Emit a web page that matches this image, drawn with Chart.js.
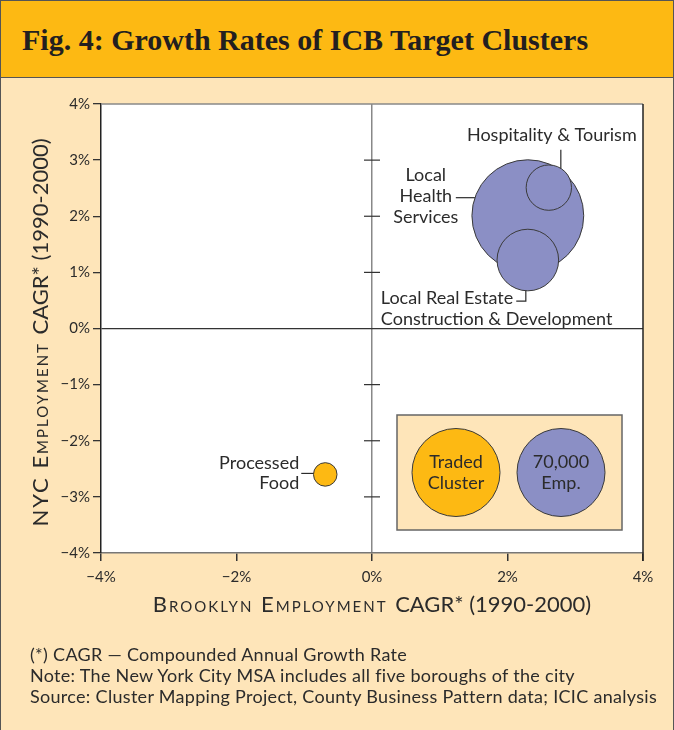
<!DOCTYPE html>
<html>
<head>
<meta charset="utf-8">
<script src="https://cdn.jsdelivr.net/npm/chart.js@4.4.0/dist/chart.umd.min.js"></script>
<style>
  body { margin: 0; background: #fff; }
  #frame { position: relative; width: 674px; height: 730px; background: #fee5b9; overflow: hidden; }
  #frame canvas { position: absolute; left: 0; top: 0; }
  #header { position: absolute; left: 0; top: 0; width: 674px; height: 77px; background: #fdb913; border-bottom: 1.5px solid #555; }
  #header h1 { position: absolute; left: 22px; top: 25px; margin: 0; font: bold 30px/1 "Liberation Serif", serif; color: #231f20; white-space: nowrap; }
  #edge { position: absolute; left: 0; top: 0; right: 0; bottom: 0; border: 1.5px solid #555; border-bottom: none; pointer-events: none; }
  #notes { position: absolute; left: 30px; top: 644px; font: 18px/21px Lato, sans-serif; letter-spacing: 0.3px; color: #2b2b2b; white-space: nowrap; }
</style>
</head>
<body>
<div id="frame">
  <canvas id="chart" width="674" height="730"></canvas>
  <div id="header"><h1>Fig. 4: Growth Rates of ICB Target Clusters</h1></div>
  <div id="notes">
    (*) CAGR — Compounded Annual Growth Rate<br>
    Note: The New York City MSA includes all five boroughs of the city<br>
    Source: Cluster Mapping Project, County Business Pattern data; ICIC analysis
  </div>
  <div id="edge"></div>
</div>
<script>
// Данные кластеров
const clusterNames = ['Local Health Services', 'Hospitality & Tourism', 'Local Real Estate Construction & Development', 'Processed Food'];
const clusterKind = ['local', 'local', 'local', 'traded'];
const brooklynCagr = [2.30, 2.61, 2.30, -0.69];
const nycCagr = [2.01, 2.51, 1.22, -2.60];
const employment = [113000, 18600, 34300, 5000];

// Деления осей
const xTickValues = [-4, -2, 0, 2, 4];
const yTickValues = [-4, -3, -2, -1, 0, 1, 2, 3, 4];
const legendEmployment = 70000;

const purple = '#8b8fc5';
const orange = '#fdb913';
const ink = '#2b2b2b';
const labelFont = '18px Lato, sans-serif';

// радиус пузыря пропорционален корню из занятости
const radiusFor = emp => 44 * Math.sqrt(emp / legendEmployment);

function pointsOf(kind) {
    return clusterNames
        .map((name, i) => ({ x: brooklynCagr[i], y: nycCagr[i], r: radiusFor(employment[i]), idx: i }))
        .filter(p => clusterKind[p.idx] === kind);
}

const pct = v => (v < 0 ? '\u2212' + (-v) : v) + '%';

// Подписи у пузырей
function drawLabels(ctx, chart) {
    const pos = {};
    chart.data.datasets.forEach((ds, d) => {
        chart.getDatasetMeta(d).data.forEach((el, j) => {
            pos[ds.data[j].idx] = { x: el.x, y: el.y, r: ds.data[j].r };
        });
    });
    ctx.save();
    ctx.font = labelFont;
    ctx.fillStyle = ink;
    ctx.strokeStyle = ink;
    ctx.lineWidth = 1.2;
    ctx.textBaseline = 'middle';

    // Local Health Services
    let p = pos[0];
    ctx.textAlign = 'center';
    ['Local', 'Health', 'Services'].forEach((t, k) => ctx.fillText(t, p.x - 102, p.y - 41 + k * 21));
    ctx.beginPath();
    ctx.moveTo(p.x - 72, p.y - 18);
    ctx.lineTo(p.x - Math.sqrt(p.r * p.r - 18 * 18), p.y - 18);
    ctx.stroke();

    // Hospitality & Tourism
    p = pos[1];
    ctx.fillText('Hospitality & Tourism', p.x + 3, p.y - 52);
    ctx.beginPath();
    ctx.moveTo(p.x + 12, p.y - 38);
    ctx.lineTo(p.x + 12, p.y - Math.sqrt(p.r * p.r - 144));
    ctx.stroke();

    // Local Real Estate
    p = pos[2];
    ctx.textAlign = 'left';
    ctx.fillText('Local Real Estate', p.x - 147, p.y + 38);
    ctx.fillText('Construction & Development', p.x - 147, p.y + 59);
    const w = ctx.measureText('Local Real Estate').width;
    ctx.beginPath();
    ctx.moveTo(p.x - 147 + w + 3, p.y + 41);
    ctx.lineTo(p.x - 2, p.y + 41);
    ctx.lineTo(p.x - 2, p.y + p.r);
    ctx.stroke();

    // Processed Food
    p = pos[3];
    ctx.textAlign = 'right';
    ctx.fillText('Processed', p.x - 26, p.y - 11);
    ctx.fillText('Food', p.x - 26, p.y + 9);
    ctx.beginPath();
    ctx.moveTo(p.x - 24, p.y - 1);
    ctx.lineTo(p.x - p.r, p.y - 1);
    ctx.stroke();
    ctx.restore();
}

// Легенда в правом нижнем углу
function drawLegend(ctx, area) {
    const right = area.right - 21, bottom = area.bottom - 23;
    const left = right - 225, top = bottom - 115;
    const r = radiusFor(legendEmployment);
    const cy = (top + bottom) / 2;
    ctx.save();
    ctx.fillStyle = '#fee5b9';
    ctx.strokeStyle = '#666';
    ctx.lineWidth = 1.5;
    ctx.fillRect(left, top, right - left, bottom - top);
    ctx.strokeRect(left, top, right - left, bottom - top);
    [[left + 59, orange, ['Traded', 'Cluster']], [left + 164, purple, ['70,000', 'Emp.']]].forEach(([cx, col, lines]) => {
        ctx.beginPath();
        ctx.arc(cx, cy, r, 0, Math.PI * 2);
        ctx.fillStyle = col;
        ctx.fill();
        ctx.strokeStyle = '#3a3a3a';
        ctx.lineWidth = 1;
        ctx.stroke();
        ctx.fillStyle = ink;
        ctx.font = labelFont;
        ctx.textAlign = 'center';
        ctx.textBaseline = 'middle';
        ctx.fillText(lines[0], cx, cy - 10);
        ctx.fillText(lines[1], cx, cy + 11);
    });
    ctx.restore();
}

// Подписи осей (капитель)
function drawAxisTitles(ctx, area) {
    ctx.save();
    ctx.fillStyle = ink;
    ctx.textBaseline = 'alphabetic';
    const scFont = 'small-caps 22px Lato, sans-serif';
    const plainFont = '22px Lato, sans-serif';
    const parts = (a, b, x, y) => {
        ctx.font = scFont;
        ctx.letterSpacing = '2px';
        const w1 = ctx.measureText(a).width;
        ctx.font = plainFont;
        ctx.letterSpacing = '0px';
        const w2 = ctx.measureText(b).width;
        const start = x - (w1 + w2) / 2;
        ctx.textAlign = 'left';
        ctx.font = scFont;
        ctx.letterSpacing = '2px';
        ctx.fillText(a, start, y);
        ctx.font = plainFont;
        ctx.letterSpacing = '0px';
        ctx.fillText(b, start + w1, y);
    };
    parts('Brooklyn Employment ', 'CAGR* (1990-2000)', (area.left + area.right) / 2, 612);
    ctx.translate(48, (area.top + area.bottom) / 2 + 4);
    ctx.rotate(-Math.PI / 2);
    parts('NYC Employment ', 'CAGR* (1990-2000)', 0, 0);
    ctx.restore();
}

const framePlugin = {
    id: 'frame',
    beforeDraw(chart) {
        const { ctx, chartArea: a } = chart;
        ctx.save();
        ctx.fillStyle = '#fff';
        ctx.fillRect(a.left, a.top, a.right - a.left, a.bottom - a.top);
        ctx.restore();
    },
    beforeDatasetsDraw(chart) {
        const { ctx, chartArea: a, scales } = chart;
        const x0 = scales.x.getPixelForValue(0);
        ctx.save();
        // верхняя и правая рамка
        ctx.strokeStyle = '#888';
        ctx.lineWidth = 1.5;
        ctx.beginPath();
        ctx.moveTo(a.left, a.top);
        ctx.lineTo(a.right, a.top);
        ctx.stroke();
        ctx.strokeStyle = '#222';
        ctx.beginPath();
        ctx.moveTo(a.right, a.top);
        ctx.lineTo(a.right, a.bottom + 8);
        ctx.stroke();
        // засечки на вертикальной оси нуля
        ctx.strokeStyle = '#333';
        ctx.lineWidth = 1.2;
        yTickValues.filter(v => Math.abs(v) > 0 && Math.abs(v) < 4).forEach(v => {
            const y = scales.y.getPixelForValue(v);
            ctx.beginPath();
            ctx.moveTo(x0 - 8, y);
            ctx.lineTo(x0 + 8, y);
            ctx.stroke();
        });
        ctx.restore();
        drawLegend(ctx, a);
    },
    afterDatasetsDraw(chart) {
        drawLabels(chart.ctx, chart);
    },
    afterDraw(chart) {
        drawAxisTitles(chart.ctx, chart.chartArea);
    }
};

// фиксированные размеры осей, без автоматических отступов под подписи
function fixAxis(size) {
    return axis => {
        if (axis.isHorizontal()) axis.height = size; else axis.width = size;
        axis.paddingLeft = 0;
        axis.paddingRight = 0;
        axis.paddingTop = 0;
        axis.paddingBottom = 0;
    };
}

const ctx = document.getElementById('chart').getContext('2d');
const chart = new Chart(ctx, {
    type: 'bubble',
    data: {
        datasets: [
            {
                label: 'Local',
                data: pointsOf('local'),
                backgroundColor: purple,
                borderColor: '#3a3a3a',
                borderWidth: 1
            },
            {
                label: 'Traded',
                data: pointsOf('traded'),
                backgroundColor: orange,
                borderColor: '#3a3a3a',
                borderWidth: 1
            }
        ]
    },
    options: {
        responsive: false,
        animation: false,
        events: [],
        layout: { autoPadding: false, padding: { top: 104, right: 31, left: 0, bottom: 0 } },
        plugins: {
            legend: { display: false },
            tooltip: { enabled: false }
        },
        scales: {
            x: {
                type: 'linear',
                min: -4,
                max: 4,
                afterBuildTicks: axis => { axis.ticks = xTickValues.map(v => ({ value: v })); },
                afterFit: fixAxis(177),
                ticks: {
                    callback: pct,
                    color: ink,
                    font: { family: 'Lato', size: 15 },
                    padding: 7,
                    maxRotation: 0
                },
                grid: {
                    color: c => (c.tick && c.tick.value === 0 ? '#888' : 'transparent'),
                    lineWidth: 1.5,
                    tickColor: '#333',
                    tickLength: 8
                },
                border: { color: '#777', width: 1.5 }
            },
            y: {
                type: 'linear',
                min: -4,
                max: 4,
                afterBuildTicks: axis => { axis.ticks = yTickValues.map(v => ({ value: v })); },
                afterFit: fixAxis(101),
                ticks: {
                    callback: pct,
                    color: ink,
                    font: { family: 'Lato', size: 15 },
                    padding: 3
                },
                grid: {
                    color: c => (c.tick && c.tick.value === 0 ? '#333' : 'transparent'),
                    lineWidth: 1.3,
                    tickColor: '#333',
                    tickLength: 8
                },
                border: { color: '#222', width: 1.5 }
            }
        }
    },
    plugins: [framePlugin]
});
</script>
</body>
</html>
